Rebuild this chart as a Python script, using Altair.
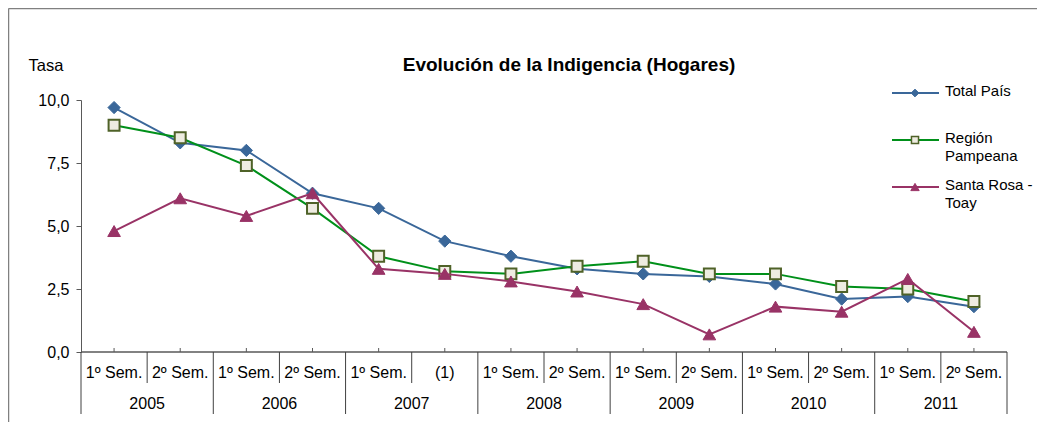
import altair as alt
import pandas as pd

# ---------------- data ----------------
semesters = ["1º Sem.", "2º Sem.", "1º Sem.", "2º Sem.", "1º Sem.", "(1)",
             "1º Sem.", "2º Sem.", "1º Sem.", "2º Sem.", "1º Sem.", "2º Sem.",
             "1º Sem.", "2º Sem."]
years = ["2005", "2006", "2007", "2008", "2009", "2010", "2011"]
series_names = ["Total País", "Región Pampeana", "Santa Rosa - Toay"]
legend_labels = ["Total País", "Región\nPampeana", "Santa Rosa -\nToay"]
chart_title = "Evolución de la Indigencia (Hogares)"

total_pais = [9.7, 8.3, 8.0, 6.3, 5.7, 4.4, 3.8, 3.3, 3.1, 3.0, 2.7, 2.1, 2.2, 1.8]
region_pampeana = [9.0, 8.5, 7.4, 5.7, 3.8, 3.2, 3.1, 3.4, 3.6, 3.1, 3.1, 2.6, 2.5, 2.0]
santa_rosa_toay = [4.8, 6.1, 5.4, 6.3, 3.3, 3.1, 2.8, 2.4, 1.9, 0.7, 1.8, 1.6, 2.9, 0.8]
y_ticks = [0, 2.5, 5, 7.5, 10]

# ---------------- styles ----------------
line_colors = ["#3A6799", "#00901A", "#993366"]
fill_colors = ["#3A6799", "#EEECE1", "#993366"]
stroke_colors = ["#3A6799", "#4F6228", "#993366"]
shapes = ["diamond", "square", "triangle-up"]
sizes = [150, 120, 160]
leg_sizes = [60, 50, 70]
FONT = "Liberation Sans"
AXIS_COLOR = "#595959"

W, H = 926, 252
N = len(semesters)

rows = []
for name, vals in zip(series_names, [total_pais, region_pampeana, santa_rosa_toay]):
    for i, v in enumerate(vals):
        rows.append({"series": name, "pos": i + 0.5, "value": v})
df = pd.DataFrame(rows)

xscale = alt.Scale(domain=[0, N], nice=False, zero=False)
yscale = alt.Scale(domain=[0, 10], nice=False)

yaxis = alt.Axis(
    values=y_ticks,
    labelExpr="replace(format(datum.value, '.1f'), '.', ',')",
    grid=False, domainColor=AXIS_COLOR, tickColor=AXIS_COLOR, tickSize=5,
    labelFont=FONT, labelFontSize=16, labelColor="#000000", labelPadding=7,
    title="Tasa", titleAngle=0, titleX=-53, titleY=-35, titleAlign="left",
    titleBaseline="middle", titleFont=FONT, titleFontSize=16.5,
    titleFontWeight="normal", titleColor="#000000",
)

X = alt.X("pos:Q", scale=xscale, axis=None)
Y = alt.Y("value:Q", scale=yscale, axis=yaxis)

layers = []
base = alt.Chart(df)
for k, name in enumerate(series_names):
    sub = base.transform_filter(alt.datum.series == name)
    layers.append(sub.mark_line(color=line_colors[k], strokeWidth=2).encode(x=X, y=Y))
    layers.append(sub.mark_point(shape=shapes[k], size=sizes[k], filled=True,
                                 fill=fill_colors[k], stroke=stroke_colors[k],
                                 strokeWidth=2 if k == 1 else 1, opacity=1)
                  .encode(x=X, y=Y))

# ---------------- category axis (two levels) ----------------
bounds_df = pd.DataFrame({"b": list(range(N + 1))})
axis_line = alt.Chart(pd.DataFrame({"start": [0], "end": [N]})).mark_rule(
    color=AXIS_COLOR, strokeWidth=1.5).encode(
    x=alt.X("start:Q", scale=xscale, axis=None), x2="end:Q", y=alt.value(H))
sem_sep = alt.Chart(bounds_df).transform_filter("datum.b % 2 == 1").mark_rule(
    color="#404040", strokeWidth=1).encode(
    x=alt.X("b:Q", scale=xscale, axis=None), y=alt.value(H), y2=alt.value(H + 31))
year_sep = alt.Chart(bounds_df).transform_filter("datum.b % 2 == 0").mark_rule(
    color="#404040", strokeWidth=1).encode(
    x=alt.X("b:Q", scale=xscale, axis=None), y=alt.value(H), y2=alt.value(H + 62))
center_df = pd.DataFrame({"pos": [i + 0.5 for i in range(N)], "label": semesters})
center_ticks = alt.Chart(center_df).mark_rule(color=AXIS_COLOR).encode(
    x=alt.X("pos:Q", scale=xscale, axis=None), y=alt.value(H - 4), y2=alt.value(H))
sem_labels = alt.Chart(center_df).mark_text(
    font=FONT, fontSize=16, color="#000000", baseline="middle").encode(
    x=alt.X("pos:Q", scale=xscale, axis=None), y=alt.value(H + 21), text="label:N")
year_df = pd.DataFrame({"pos": [2 * j + 1 for j in range(len(years))], "year": years})
year_labels = alt.Chart(year_df).mark_text(
    font=FONT, fontSize=16, color="#000000", baseline="middle").encode(
    x=alt.X("pos:Q", scale=xscale, axis=None), y=alt.value(H + 52), text="year:N")

# ---------------- title ----------------
title_layer = alt.Chart(pd.DataFrame({"t": [chart_title]})).mark_text(
    font=FONT, fontSize=19, fontWeight="bold", color="#000000",
    align="center", baseline="middle").encode(
    x=alt.value(488), y=alt.value(-35), text="t:N")

# ---------------- legend ----------------
leg_df = pd.DataFrame({"series": series_names, "label": legend_labels})
leg_rows_y = [-7, 40, 87]
legend_layers = []
for k, name in enumerate(series_names):
    sub = alt.Chart(leg_df).transform_filter(alt.datum.series == name)
    ly = leg_rows_y[k]
    legend_layers.append(sub.mark_rule(color=line_colors[k], strokeWidth=2).encode(
        x=alt.value(811), x2=alt.value(858), y=alt.value(ly)))
    legend_layers.append(sub.mark_point(shape=shapes[k], size=leg_sizes[k], filled=True,
                                        fill=fill_colors[k], stroke=stroke_colors[k],
                                        strokeWidth=1.5 if k == 1 else 1, opacity=1).encode(
        x=alt.value(834), y=alt.value(ly)))
    legend_layers.append(sub.mark_text(align="left", baseline="top", font=FONT, fontSize=15,
                                       lineBreak="\n", lineHeight=18, color="#000000").encode(
        x=alt.value(864), y=alt.value(ly - 9), text="label:N"))

# ---------------- frame border ----------------
border_df = pd.DataFrame({"b": [0]})
border_left = alt.Chart(border_df).mark_rule(color="#808080", strokeWidth=1.5).encode(
    x=alt.value(-72.5), y=alt.value(-91.5), y2=alt.value(H + 80))
border_top = alt.Chart(border_df).mark_rule(color="#808080", strokeWidth=1.5).encode(
    x=alt.value(-72.5), x2=alt.value(W + 40), y=alt.value(-91.5))

chart = alt.layer(
    border_left, border_top, title_layer,
    axis_line, sem_sep, year_sep, center_ticks, sem_labels, year_labels,
    *layers, *legend_layers,
).properties(
    width=W, height=H,
    autosize=alt.AutoSizeParams(type="none"),
    padding={"left": 73, "top": 92, "right": 30, "bottom": 70},
    background="#ffffff",
).configure_view(stroke=None)

chart.save("out.html", embed_options={"renderer": "svg", "actions": False})
